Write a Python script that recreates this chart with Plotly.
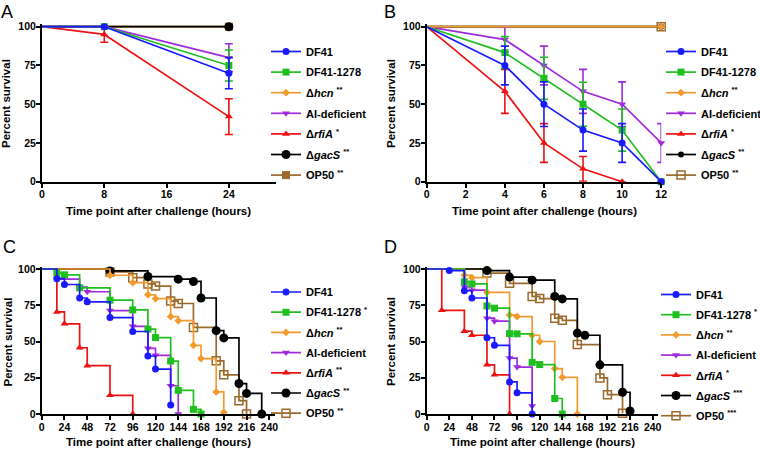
import plotly.graph_objects as go

# ---------------- data ----------------
# Panel A (percent survival, mean +/- error)
A_time = [0, 8, 24]
A_ctrl_time = [0, 24]
A_DF41 = [100, 100, 70]
A_DF41_err = [0, 0, 10]
A_DF41_1278 = [100, 100, 75]
A_DF41_1278_err = [0, 0, 10]
A_hcn = [100, 100]
A_AI = [100, 100, 80]
A_AI_err = [0, 0, 9]
A_rfiA = [100, 95, 42]
A_rfiA_err = [0, 5, 11.5]
A_gacS = [100, 100]
A_OP50 = [100, 100]

# Panel B
B_time = [0, 4, 6, 8, 10, 12]
B_ctrl_time = [0, 12]
B_DF41 = [100, 75, 50, 33.3, 25, 0]
B_DF41_err = [0, 12.5, 14.4, 13.6, 12.5, 0]
B_DF41_1278 = [100, 83.3, 66.7, 50, 33.3, 0]
B_DF41_1278_err = [0, 10.3, 13.6, 14.2, 13.6, 0]
B_hcn = [100, 100]
B_AI = [100, 91.7, 75, 58.3, 50, 25]
B_AI_err = [0, 8, 12.5, 14.2, 14.4, 12.5]
B_rfiA_time = [0, 4, 6, 8, 10]
B_rfiA = [100, 58.3, 25, 8.3, 0]
B_rfiA_err = [0, 14.2, 12.5, 8, 0]
B_gacS = [100, 100]
B_OP50 = [100, 100]

# Panel C (Kaplan-Meier)
C_DF41_t = [0, 16, 24, 40, 48, 72, 96, 112, 120, 136]
C_DF41 = [100, 93.3, 89.3, 80, 77.4, 66.5, 56.9, 40, 31, 6.2]
C_DF41_1278_t = [0, 16, 24, 40, 72, 96, 112, 120, 136, 144, 160, 168]
C_DF41_1278 = [100, 97.2, 96, 87, 78.5, 71.8, 58.5, 52.7, 36.5, 16.3, 3.2, 0]
C_hcn_t = [0, 72, 96, 112, 120, 136, 144, 160, 168, 184, 192]
C_hcn = [100, 95.7, 90.6, 82.2, 79.6, 67.2, 64.4, 47.4, 38.2, 15.2, 1.1]
C_AI_t = [0, 16, 40, 48, 72, 96, 112, 120, 136, 144]
C_AI = [100, 93, 87.5, 84.3, 71.3, 60.5, 45.3, 40.5, 19.5, 0]
C_rfiA_t = [0, 16, 24, 40, 48, 72, 96]
C_rfiA = [100, 70.4, 62.2, 45.7, 33.3, 12.9, 0]
C_gacS_t = [0, 72, 112, 144, 160, 168, 184, 192, 208, 216, 232]
C_gacS = [100, 98.7, 94.8, 93, 91.4, 80, 57.5, 52.5, 21, 14.2, 0]
C_OP50_t = [0, 72, 96, 112, 120, 136, 144, 160, 184, 192, 208, 216]
C_OP50 = [100, 98, 94, 89.7, 88.2, 77.9, 76.2, 59.7, 36.7, 27, 9.2, 0]

# Panel D (Kaplan-Meier)
D_DF41_t = [0, 24, 40, 48, 64, 72, 88, 96, 112]
D_DF41 = [100, 98.9, 85, 80, 52.6, 47.4, 22.1, 14.6, 0]
D_DF41_1278_t = [0, 40, 48, 64, 72, 88, 96, 112, 120, 136, 144]
D_DF41_1278 = [100, 91.2, 89.7, 74.5, 73, 55.4, 55.3, 35.6, 34.1, 10.7, 0]
D_hcn_t = [0, 40, 48, 64, 88, 96, 112, 120, 136, 144, 160]
D_hcn = [100, 95.7, 94, 83.9, 68.2, 67.2, 54.3, 50, 31.3, 25.3, 0]
D_AI_t = [0, 40, 48, 64, 72, 88, 96, 112]
D_AI = [100, 87.6, 85.4, 66.1, 64, 38.6, 32.4, 5.6]
D_rfiA_t = [0, 16, 40, 48, 64, 72, 88]
D_rfiA = [100, 71.5, 57.1, 54.3, 33.9, 27, 0]
D_gacS_t = [0, 64, 88, 112, 136, 144, 160, 168, 184, 208, 216]
D_gacS = [100, 98.9, 94.4, 92.3, 81.1, 79.4, 55.8, 54.3, 33.9, 15, 2.1]
D_OP50_t = [0, 64, 88, 112, 120, 136, 144, 160, 184, 192, 208]
D_OP50 = [100, 97.2, 90.1, 81.1, 79.6, 66.1, 64.6, 47.9, 24.9, 13.3, 0.6]

# legend labels
A_labels = ["DF41", "DF41-1278", "Δ<i>hcn</i> <sup>**</sup>", "AI-deficient",
            "Δ<i>rfiA</i> <sup>*</sup>", "Δ<i>gacS</i> <sup>**</sup>", "OP50 <sup>**</sup>"]
B_labels = A_labels
C_labels = ["DF41", "DF41-1278 <sup>*</sup>", "Δ<i>hcn</i> <sup>**</sup>", "AI-deficient",
            "Δ<i>rfiA</i> <sup>**</sup>", "Δ<i>gacS</i> <sup>**</sup>", "OP50 <sup>**</sup>"]
D_labels = ["DF41", "DF41-1278 <sup>*</sup>", "Δ<i>hcn</i> <sup>**</sup>", "AI-deficient",
            "Δ<i>rfiA</i> <sup>*</sup>", "Δ<i>gacS</i> <sup>***</sup>", "OP50 <sup>***</sup>"]

y_ticks = [0, 25, 50, 75, 100]
A_xticks = [0, 8, 16, 24]
B_xticks = [0, 2, 4, 6, 8, 10, 12]
CD_xticks = [0, 24, 48, 72, 96, 120, 144, 168, 192, 216, 240]
x_title = "Time point after challenge (hours)"
y_title = "Percent survival"

# ---------------- styles ----------------
FONT = "Liberation Sans, Arial, sans-serif"
W, H = 760, 460
colors = ["#1a1aff", "#1fbf1f", "#f39a2e", "#a02bdb", "#ee1111", "#000000", "#9a6a2c"]
sym_filled = ["circle", "square", "diamond", "triangle-down", "triangle-up", "circle", "square"]
sym_open = ["circle", "square", "diamond", "triangle-down", "triangle-up", "circle", "square-open"]
# drawing order, bottom first (legend order kept through legendrank)
A_draw = [2, 6, 5, 4, 3, 1, 0]
BCD_draw = [6, 5, 4, 3, 2, 1, 0]
Y_TOP = 101.5  # small headroom so lines at 100 are not clipped


def px(v):
    return v / W


def py(v):
    return 1 - v / H


fig = go.Figure()


def add_series(ax, leg, key, label, i, xs, ys, err, shape, symbol, size):
    xa, ya = ("x", "y") if ax == 1 else (f"x{ax}", f"y{ax}")
    grp = f"{key}{i}"
    rank = 100 + i
    # first segment from the origin point (no marker)
    fig.add_trace(go.Scatter(
        x=xs[:2], y=ys[:2], mode="lines", xaxis=xa, yaxis=ya,
        line=dict(color=colors[i], width=1.7, shape=shape),
        showlegend=False, legendgroup=grp, legend=leg, legendrank=rank, cliponaxis=False,
        hoverinfo="skip"))
    kw = {}
    if err is not None:
        arr = [e if e else None for e in err[1:]]
        kw["error_y"] = dict(type="data", array=arr, symmetric=True,
                             color=colors[i], thickness=1.6, width=4)
    fig.add_trace(go.Scatter(
        x=xs[1:], y=ys[1:], mode="lines+markers", xaxis=xa, yaxis=ya,
        name=label, legendgroup=grp, legend=leg, legendrank=rank, cliponaxis=False,
        line=dict(color=colors[i], width=1.7, shape=shape),
        marker=dict(color=colors[i], symbol=symbol, size=size,
                    line=dict(color=colors[i], width=1.5 if "open" in symbol else 0)),
        **kw))


# Panel A
A_series = [(A_time, A_DF41, A_DF41_err), (A_time, A_DF41_1278, A_DF41_1278_err),
            (A_ctrl_time, A_hcn, None), (A_time, A_AI, A_AI_err), (A_time, A_rfiA, A_rfiA_err),
            (A_ctrl_time, A_gacS, None), (A_ctrl_time, A_OP50, None)]
A_sizes = [7, 7, 6, 7, 7, 9, 8]
for i in A_draw:
    xs, ys, e = A_series[i]
    add_series(1, "legend", "A", A_labels[i], i, xs, ys, e, "linear", sym_filled[i], A_sizes[i])

# Panel B
B_series = [(B_time, B_DF41, B_DF41_err), (B_time, B_DF41_1278, B_DF41_1278_err),
            (B_ctrl_time, B_hcn, None), (B_time, B_AI, B_AI_err), (B_rfiA_time, B_rfiA, B_rfiA_err),
            (B_ctrl_time, B_gacS, None), (B_ctrl_time, B_OP50, None)]
B_sizes = [7, 7, 6, 7, 7, 6, 8]
for i in BCD_draw:
    xs, ys, e = B_series[i]
    add_series(2, "legend2", "B", B_labels[i], i, xs, ys, e, "linear", sym_open[i], B_sizes[i])

# Panel C
C_series = [(C_DF41_t, C_DF41), (C_DF41_1278_t, C_DF41_1278), (C_hcn_t, C_hcn), (C_AI_t, C_AI),
            (C_rfiA_t, C_rfiA), (C_gacS_t, C_gacS), (C_OP50_t, C_OP50)]
CD_sizes = [7, 7, 6, 7, 7, 9, 8]
for i in BCD_draw:
    xs, ys = C_series[i]
    add_series(3, "legend3", "C", C_labels[i], i, xs, ys, None, "hv", sym_open[i], CD_sizes[i])

# Panel D
D_series = [(D_DF41_t, D_DF41), (D_DF41_1278_t, D_DF41_1278), (D_hcn_t, D_hcn), (D_AI_t, D_AI),
            (D_rfiA_t, D_rfiA), (D_gacS_t, D_gacS), (D_OP50_t, D_OP50)]
for i in BCD_draw:
    xs, ys = D_series[i]
    add_series(4, "legend4", "D", D_labels[i], i, xs, ys, None, "hv", sym_open[i], CD_sizes[i])

# ---------------- axes ----------------
tickfont = dict(family=FONT, size=10.5, color="black", weight="bold")
axcommon = dict(showline=True, linecolor="black", linewidth=2, ticks="outside", ticklen=4,
                tickwidth=1.6, tickcolor="black", showgrid=False, zeroline=False,
                tickfont=tickfont, fixedrange=True, automargin=False, ticklabelstandoff=-2)


def ydom(y0pix, y100pix):
    top = y100pix - (Y_TOP - 100) / 100 * (y0pix - y100pix)
    return [py(y0pix), py(top)]


panels = {
    1: dict(xd=[px(42), px(275.6)], yd=ydom(181.7, 26.7), xr=[0, 30], xt=A_xticks),
    2: dict(xd=[px(426.7), px(661.2)], yd=ydom(181.7, 26.7), xr=[0, 12], xt=B_xticks),
    3: dict(xd=[px(41.7), px(275)], yd=ydom(414, 269), xr=[0, 246], xt=CD_xticks),
    4: dict(xd=[px(426.7), px(658.3)], yd=ydom(414, 269), xr=[0, 246], xt=CD_xticks),
}
layout_axes = {}
for k, p in panels.items():
    sx = "" if k == 1 else str(k)
    layout_axes[f"xaxis{sx}"] = dict(domain=p["xd"], range=p["xr"], tickvals=p["xt"],
                                     anchor=f"y{sx}", **axcommon)
    layout_axes[f"yaxis{sx}"] = dict(domain=p["yd"], range=[0, Y_TOP], tickvals=y_ticks,
                                     anchor=f"x{sx}", **axcommon)

legfont = dict(family=FONT, size=11, color="black", weight="bold")


def legend_at(xpix, ypix, gap):
    return dict(x=px(xpix), y=py(ypix), xanchor="left", yanchor="top",
                bgcolor="rgba(0,0,0,0)", font=legfont, itemwidth=30,
                tracegroupgap=gap, traceorder="grouped", borderwidth=0)


annotations = []
for lbl, x, y in [("A", 7, 12), ("B", 390, 12), ("C", 9, 247), ("D", 390, 247)]:
    annotations.append(dict(text=lbl, x=px(x), y=py(y), xref="paper", yref="paper",
                            showarrow=False, xanchor="center", yanchor="middle",
                            font=dict(family=FONT, size=18, color="black")))
titlefont = dict(family=FONT, size=11.5, color="black", weight="bold")
for x, y in [(158.8, 211), (544, 211), (158.5, 442), (542.5, 442)]:
    annotations.append(dict(text=x_title, x=px(x), y=py(y), xref="paper", yref="paper",
                            showarrow=False, xanchor="center", yanchor="middle", font=titlefont))
for x, y in [(6, 104), (391, 104), (7.5, 342), (391, 342)]:
    annotations.append(dict(text=y_title, x=px(x), y=py(y), xref="paper", yref="paper",
                            showarrow=False, xanchor="center", yanchor="middle",
                            textangle=-90, font=titlefont))

fig.update_layout(
    width=W, height=H, margin=dict(l=0, r=0, t=0, b=0, autoexpand=False),
    paper_bgcolor="white", plot_bgcolor="white",
    font=dict(family=FONT, color="black"),
    legend=legend_at(266, 37, 1.6),
    legend2=legend_at(661, 37, 1.6),
    legend3=legend_at(266, 277.5, 1.2),
    legend4=legend_at(656, 280, 1.2),
    annotations=annotations,
    showlegend=True,
    **layout_axes,
)

fig.write_html("out.html", config={"displayModeBar": False},
               post_script="document.body.style.margin='0px';")
